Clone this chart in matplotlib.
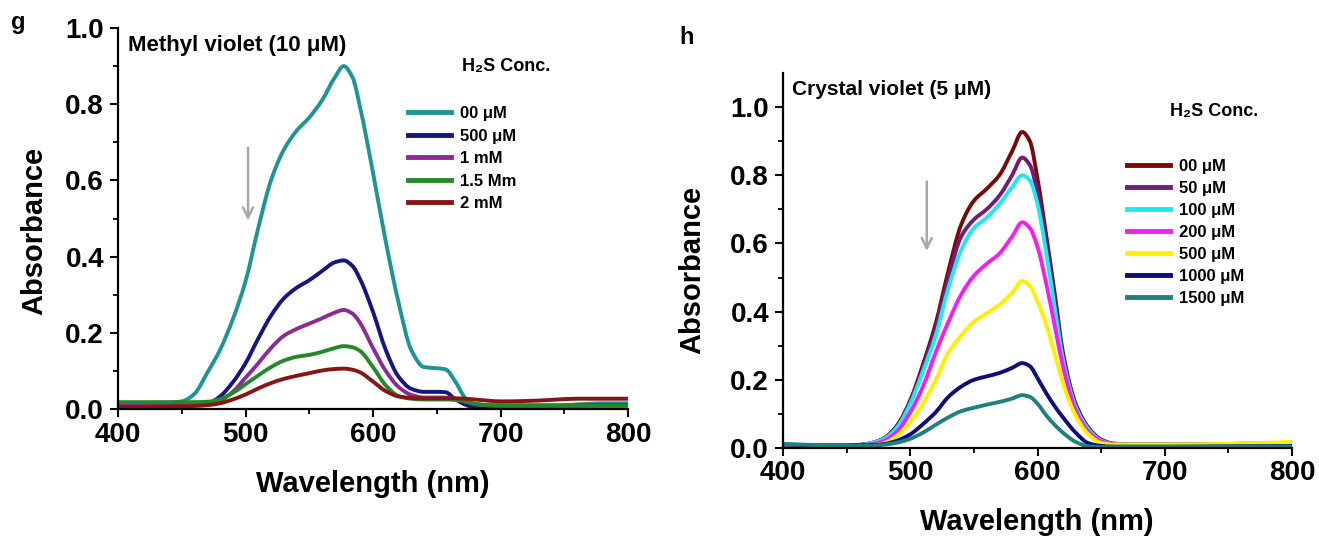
import matplotlib
matplotlib.use("Agg")
import numpy as np
import matplotlib.pyplot as plt
from matplotlib.ticker import FixedLocator
from matplotlib.path import Path
from matplotlib.patches import PathPatch
from matplotlib.lines import Line2D

W, H = 1319, 536
fig = plt.figure(figsize=(W / 100, H / 100), dpi=100)
FONT = ['Liberation Sans', 'DejaVu Sans']
plt.rcParams['font.family'] = FONT

# ---------------- data: panel g (Methyl violet) ----------------
wl_g = [400, 430, 450, 460, 470, 480, 490, 500, 510, 520, 530, 540, 550, 560, 570, 577,
        584, 590, 600, 610, 620, 630, 640, 650, 657, 664, 672, 680, 690, 700, 720, 740,
        760, 780, 800]
mv_00uM = [0.015, 0.015, 0.02, 0.04, 0.095, 0.155, 0.235, 0.335, 0.475, 0.60, 0.68, 0.73,
           0.765, 0.81, 0.87, 0.90, 0.87, 0.79, 0.62, 0.44, 0.28, 0.155, 0.11, 0.107, 0.104,
           0.075, 0.03, 0.005, 0.0, 0.0, 0.003, 0.006, 0.012, 0.015, 0.015]
mv_500uM = [0.012, 0.012, 0.012, 0.012, 0.014, 0.033, 0.07, 0.12, 0.185, 0.245, 0.29, 0.318,
            0.338, 0.362, 0.385, 0.39, 0.375, 0.34, 0.255, 0.155, 0.085, 0.053, 0.045, 0.045,
            0.044, 0.027, 0.012, 0.003, 0.0, 0.0, 0.002, 0.005, 0.008, 0.01, 0.01]
mv_1mM = [0.012, 0.012, 0.012, 0.012, 0.015, 0.022, 0.045, 0.082, 0.12, 0.16, 0.192, 0.21,
          0.224, 0.238, 0.253, 0.26, 0.25, 0.225, 0.16, 0.10, 0.058, 0.037, 0.03, 0.03, 0.03,
          0.027, 0.02, 0.013, 0.01, 0.01, 0.01, 0.01, 0.01, 0.01, 0.01]
mv_1p5mM = [0.018, 0.018, 0.018, 0.018, 0.019, 0.026, 0.042, 0.065, 0.088, 0.11, 0.127, 0.137,
            0.142, 0.15, 0.16, 0.165, 0.162, 0.152, 0.11, 0.062, 0.034, 0.027, 0.025, 0.025,
            0.025, 0.024, 0.02, 0.014, 0.01, 0.008, 0.008, 0.008, 0.008, 0.008, 0.008]
mv_2mM = [0.005, 0.006, 0.007, 0.008, 0.01, 0.015, 0.025, 0.038, 0.054, 0.068, 0.079, 0.087,
          0.094, 0.101, 0.105, 0.106, 0.103, 0.096, 0.072, 0.047, 0.033, 0.029, 0.028, 0.028,
          0.028, 0.028, 0.027, 0.025, 0.022, 0.02, 0.021, 0.024, 0.027, 0.027, 0.027]
labels_g = ['00 μM', '500 μM', '1 mM', '1.5 Mm', '2 mM']
colors_g = ['#1f9494', '#16167f', '#8e2a96', '#24892a', '#851616']

# ---------------- data: panel h (Crystal violet) ----------------
wl_h = [400, 430, 450, 460, 470, 480, 490, 500, 510, 520, 530, 540, 550, 560, 570, 580,
        588, 594, 600, 607, 614, 620, 630, 640, 650, 660, 680, 700, 750, 800]
cv_00uM = [0.005, 0.005, 0.006, 0.009, 0.015, 0.03, 0.068, 0.14, 0.245, 0.365, 0.52, 0.655,
           0.725, 0.76, 0.80, 0.87, 0.927, 0.90, 0.79, 0.62, 0.44, 0.28, 0.13, 0.06, 0.025,
           0.013, 0.01, 0.01, 0.012, 0.015]
cv_50uM = [0.005, 0.005, 0.006, 0.009, 0.015, 0.029, 0.065, 0.135, 0.235, 0.35, 0.50, 0.62,
           0.67, 0.70, 0.74, 0.80, 0.852, 0.83, 0.75, 0.60, 0.42, 0.27, 0.125, 0.057, 0.023,
           0.012, 0.01, 0.01, 0.01, 0.012]
cv_100uM = [0.008, 0.006, 0.006, 0.009, 0.015, 0.028, 0.062, 0.13, 0.225, 0.33, 0.47, 0.58,
            0.645, 0.675, 0.715, 0.765, 0.80, 0.785, 0.715, 0.57, 0.40, 0.26, 0.12, 0.055,
            0.022, 0.012, 0.01, 0.01, 0.01, 0.01]
cv_200uM = [0.005, 0.005, 0.005, 0.007, 0.011, 0.022, 0.05, 0.105, 0.18, 0.28, 0.37, 0.45,
            0.505, 0.54, 0.57, 0.62, 0.662, 0.645, 0.59, 0.48, 0.35, 0.24, 0.11, 0.048, 0.02,
            0.011, 0.009, 0.009, 0.009, 0.009]
cv_500uM = [0.003, 0.003, 0.004, 0.005, 0.008, 0.015, 0.037, 0.075, 0.13, 0.20, 0.28, 0.33,
            0.37, 0.395, 0.42, 0.455, 0.49, 0.475, 0.43, 0.36, 0.27, 0.19, 0.095, 0.04, 0.015,
            0.01, 0.01, 0.01, 0.012, 0.018]
cv_1000uM = [0.01, 0.008, 0.008, 0.008, 0.009, 0.012, 0.022, 0.04, 0.07, 0.105, 0.15, 0.18,
             0.20, 0.21, 0.22, 0.235, 0.249, 0.24, 0.205, 0.16, 0.12, 0.09, 0.045, 0.014,
             0.006, 0.004, 0.004, 0.004, 0.005, 0.006]
cv_1500uM = [0.012, 0.008, 0.006, 0.006, 0.007, 0.01, 0.016, 0.027, 0.045, 0.068, 0.09, 0.108,
             0.118, 0.127, 0.135, 0.145, 0.155, 0.15, 0.13, 0.095, 0.066, 0.045, 0.018, 0.005,
             0.003, 0.003, 0.003, 0.003, 0.004, 0.005]
labels_h = ['00 μM', '50 μM', '100 μM', '200 μM', '500 μM', '1000 μM', '1500 μM']
colors_h = ['#7a0a0a', '#741a78', '#1ee8f0', '#f21ef0', '#fff000', '#0c0c7c', '#1f8080']

x_ticks = [400, 500, 600, 700, 800]
x_minor = [450, 550, 650, 750]
y_ticks = [0.0, 0.2, 0.4, 0.6, 0.8, 1.0]
y_minor = [0.1, 0.3, 0.5, 0.7, 0.9]


def smooth_curve(ax, xs, ys, color, lw=2.8):
    """Draw the measured points joined by monotone cubic (Hermite/Bezier) segments."""
    x = np.asarray(xs, float)
    y = np.asarray(ys, float)
    h = np.diff(x)
    d = np.diff(y) / h
    m = np.zeros_like(y)
    m[0], m[-1] = d[0], d[-1]
    for i in range(1, len(y) - 1):
        if d[i - 1] * d[i] <= 0:
            m[i] = 0.0
        else:
            w1 = 2 * h[i] + h[i - 1]
            w2 = h[i] + 2 * h[i - 1]
            m[i] = (w1 + w2) / (w1 / d[i - 1] + w2 / d[i])
    verts = [(x[0], y[0])]
    codes = [Path.MOVETO]
    for i in range(len(x) - 1):
        verts += [(x[i] + h[i] / 3, y[i] + m[i] * h[i] / 3),
                  (x[i + 1] - h[i] / 3, y[i + 1] - m[i + 1] * h[i] / 3),
                  (x[i + 1], y[i + 1])]
        codes += [Path.CURVE4] * 3
    patch = PathPatch(Path(verts, codes), facecolor='none', edgecolor=color, lw=lw,
                      joinstyle='round', capstyle='butt', transform=ax.transData)
    ax.add_patch(patch)


def px_axes(x0, y_top, x1, y_bot):
    return fig.add_axes([x0 / W, 1 - y_bot / H, (x1 - x0) / W, (y_bot - y_top) / H])


def style(ax, ylim):
    ax.set_xlim(400, 800)
    ax.set_ylim(*ylim)
    for s in ('top', 'right'):
        ax.spines[s].set_visible(False)
    for s in ('left', 'bottom'):
        ax.spines[s].set_linewidth(1.6)
    ax.set_xticks(x_ticks)
    ax.set_yticks(y_ticks)
    ax.set_yticklabels(['%.1f' % v for v in y_ticks])
    ax.xaxis.set_minor_locator(FixedLocator(x_minor))
    ax.yaxis.set_minor_locator(FixedLocator(y_minor))
    ax.tick_params(which='major', direction='out', length=6, width=1.5, labelsize=20)
    ax.tick_params(which='minor', direction='out', length=3.5, width=1.3)
    ax.tick_params(axis='x', which='major', pad=3)
    ax.tick_params(axis='y', which='major', pad=4)
    for lab in ax.get_xticklabels() + ax.get_yticklabels():
        lab.set_fontweight('bold')


def add_legend(ax, colors, labels, x_px, y_px, spacing):
    handles = [Line2D([], [], color=c, lw=3.5) for c in colors]
    ax.legend(handles, labels, loc='upper left', bbox_to_anchor=(x_px / W, 1 - y_px / H),
              bbox_transform=fig.transFigure, frameon=False, borderpad=0,
              borderaxespad=0, handlelength=2.6, handletextpad=0.5,
              labelspacing=spacing, prop=dict(family=FONT, weight='bold', size=12))


# ---------------- panel g ----------------
axg = px_axes(118, 28, 628, 409)
for ys, c in zip([mv_00uM, mv_500uM, mv_1mM, mv_1p5mM, mv_2mM], colors_g):
    smooth_curve(axg, wl_g, ys, c)
style(axg, (0, 1.0))
axg.annotate('', xy=(502, 0.488), xytext=(502, 0.693),
             arrowprops=dict(arrowstyle='->', color='#a8a8a8', lw=1.8, mutation_scale=18))
add_legend(axg, colors_g, labels_g, 408, 106, 0.45)

# ---------------- panel h ----------------
axh = px_axes(783, 73, 1292, 448)
for ys, c in zip([cv_00uM, cv_50uM, cv_100uM, cv_200uM, cv_500uM, cv_1000uM, cv_1500uM],
                 colors_h):
    smooth_curve(axh, wl_h, ys, c)
style(axh, (0, 1.1))
axh.annotate('', xy=(513, 0.57), xytext=(513, 0.79),
             arrowprops=dict(arrowstyle='->', color='#a8a8a8', lw=1.8, mutation_scale=18))
add_legend(axh, colors_h, labels_h, 1127, 159, 0.42)

# ---------------- texts ----------------
def ftext(x, y, s, **kw):
    fig.text(x / W, 1 - y / H, s, family=FONT, fontweight='bold', **kw)

ftext(18, 23, 'g', fontsize=17, ha='center', va='center')
ftext(687, 38, 'h', fontsize=17, ha='center', va='center')
ftext(128, 46, 'Methyl violet (10 μM)', fontsize=16, ha='left', va='center')
ftext(792, 89, 'Crystal violet (5 μM)', fontsize=15, ha='left', va='center')
ftext(462, 66, 'H₂S Conc.', fontsize=13, ha='left', va='center')
ftext(1170, 112, 'H₂S Conc.', fontsize=13, ha='left', va='center')
ftext(34, 231, 'Absorbance', fontsize=21, ha='center', va='center', rotation=90)
ftext(692, 270, 'Absorbance', fontsize=21, ha='center', va='center', rotation=90)
ftext(373, 484, 'Wavelength (nm)', fontsize=21, ha='center', va='center')
ftext(1037, 522, 'Wavelength (nm)', fontsize=21, ha='center', va='center')

fig.savefig('out.png', dpi=100)
